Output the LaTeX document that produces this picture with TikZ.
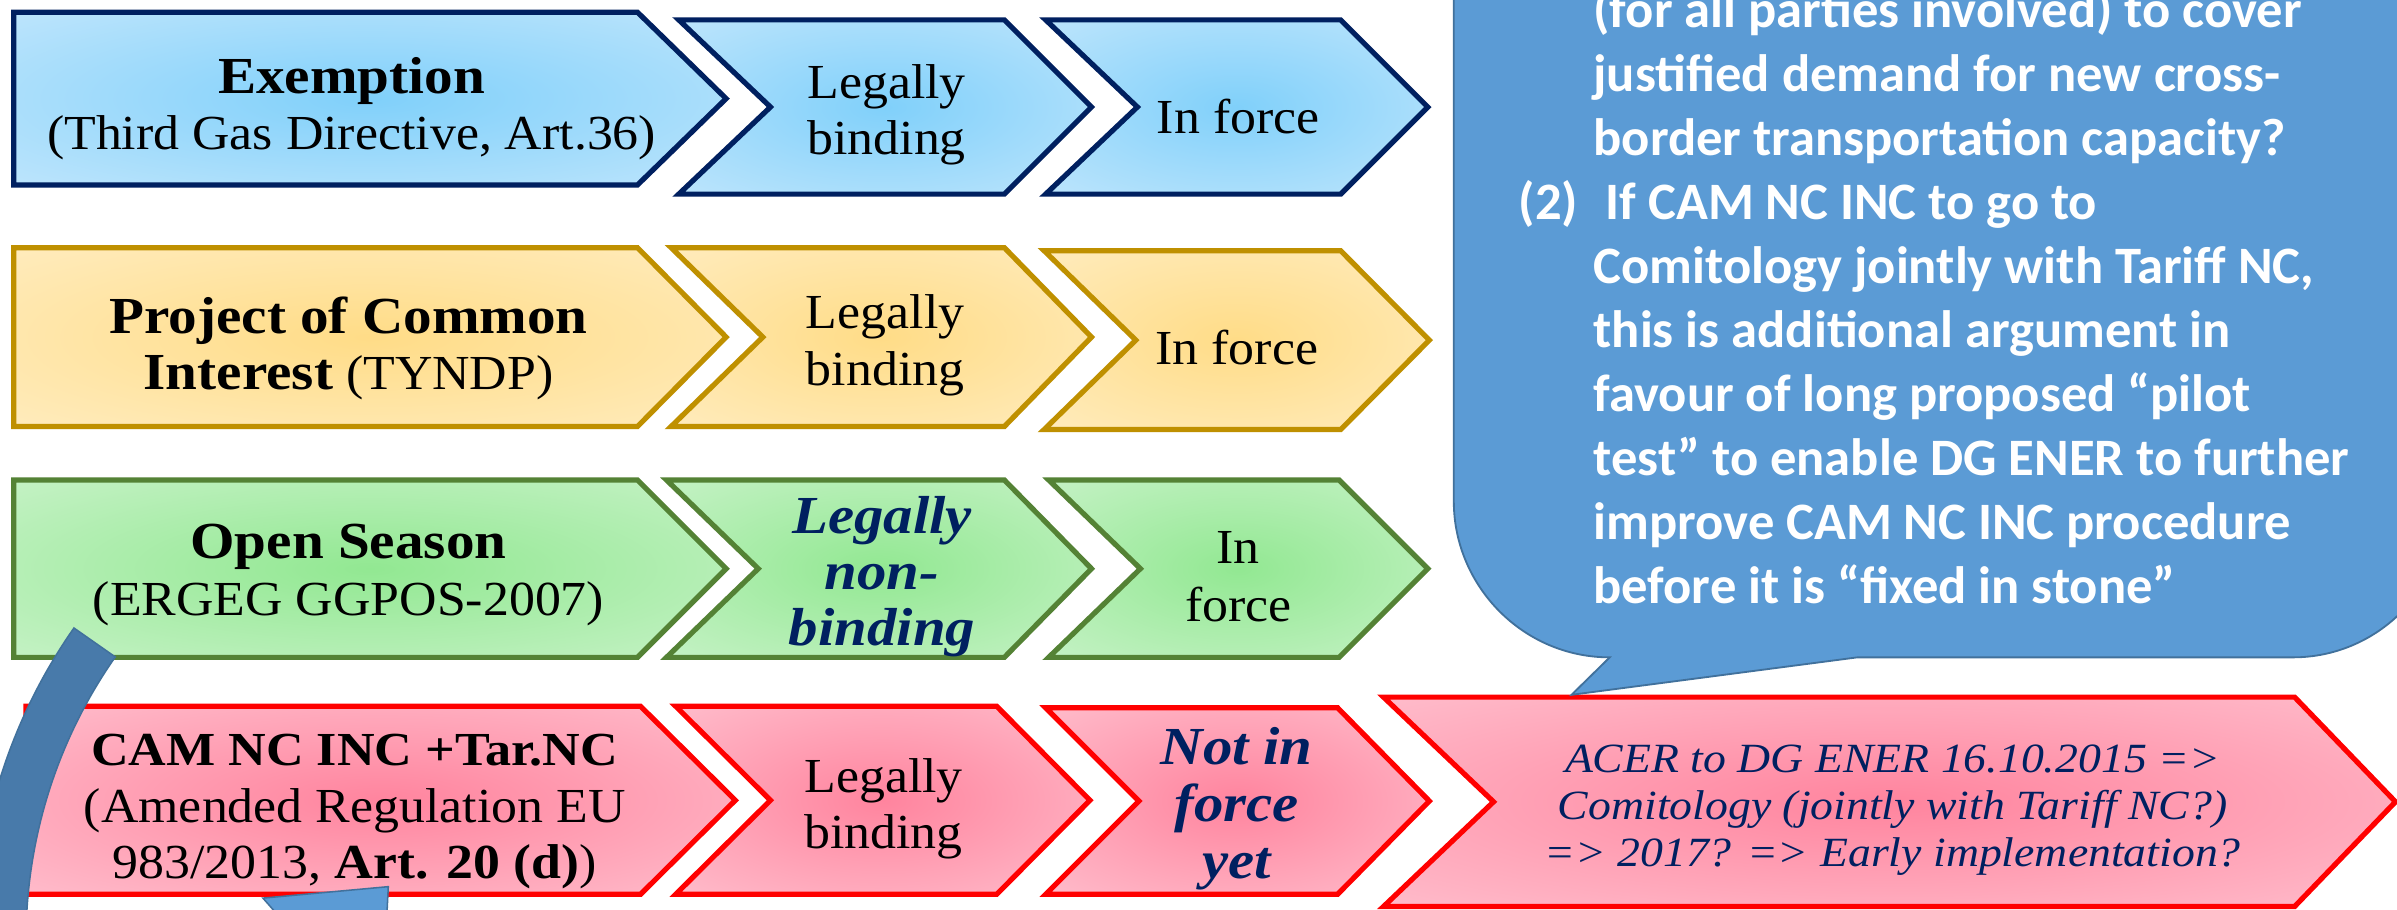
\documentclass[tikz,border=0pt]{standalone}
\usepackage{fontspec}
\usetikzlibrary{calc}
\setmainfont{Liberation Serif}[FakeStretch=1.06,BoldFeatures={FakeStretch=1.1},ItalicFeatures={FakeStretch=1.1},BoldItalicFeatures={FakeStretch=1.1}]
\newfontfamily\calibri{Carlito}
\definecolor{navy}{RGB}{0,32,96}
\definecolor{blueIn}{RGB}{128,208,250}
\definecolor{blueOut}{RGB}{222,240,253}
\definecolor{goldLine}{RGB}{191,144,0}
\definecolor{goldIn}{RGB}{255,220,135}
\definecolor{goldOut}{RGB}{255,244,218}
\definecolor{greenLine}{RGB}{84,130,53}
\definecolor{greenIn}{RGB}{146,232,146}
\definecolor{greenOut}{RGB}{224,247,224}
\definecolor{redIn}{RGB}{255,132,158}
\definecolor{redOut}{RGB}{255,218,227}
\definecolor{callFill}{RGB}{91,155,213}
\definecolor{callLine}{RGB}{65,113,156}
\definecolor{bandBlue}{RGB}{72,122,170}
\pgfdeclareradialshading{blueS}{\pgfpointorigin}{color(0bp)=(blueIn); color(55bp)=(blueOut); color(75bp)=(blueOut)}
\pgfdeclareradialshading{goldS}{\pgfpointorigin}{color(0bp)=(goldIn); color(55bp)=(goldOut); color(75bp)=(goldOut)}
\pgfdeclareradialshading{greenS}{\pgfpointorigin}{color(0bp)=(greenIn); color(55bp)=(greenOut); color(75bp)=(greenOut)}
\pgfdeclareradialshading{redS}{\pgfpointorigin}{color(0bp)=(redIn); color(55bp)=(redOut); color(75bp)=(redOut)}
% #1 style, #2 L, #3 notch depth, #4 base right, #5 tip, #6 top, #7 bottom
\newcommand\chev[7]{%
  \path[#1] (#2,#6) -- (#4,#6) -- (#5,{(#6+#7)/2}) -- (#4,#7) -- (#2,#7) -- ({#2+#3},{(#6+#7)/2}) -- cycle;}
\begin{document}
\begin{tikzpicture}[x=0.5pt,y=-0.5pt,
  chevbase/.style={line width=1.7pt, line join=miter, shade},
  cblue/.style={chevbase, draw=navy, shading=blueS},
  cgold/.style={chevbase, draw=goldLine, shading=goldS},
  cgreen/.style={chevbase, draw=greenLine, shading=greenS},
  cred/.style={chevbase, draw=red, shading=redS},
  lbl/.style={align=center, inner sep=0pt, font=\fontsize{16}{18.5}\selectfont},
  emph/.style={align=center, inner sep=0pt, text=navy, font=\fontsize{17.5}{18.3}\selectfont\bfseries\itshape},
  callt/.style={anchor=base west, inner sep=0pt, text=white, font=\calibri\fontsize{17.2}{21}\selectfont\bfseries}]
\useasboundingbox (0,0) rectangle (1568,595);
\fill[white] (0,0) rectangle (1568,595);
\begin{scope}
\clip (0,0) rectangle (1568,595);
% row 1
\chev{cblue}{9}{0}{417}{475}{8}{121}
\chev{cblue}{444}{60}{657}{714}{13}{127}
\chev{cblue}{684}{60}{877}{934}{13}{127}
% row 2
\chev{cgold}{9}{0}{417}{475}{162}{279}
\chev{cgold}{439}{60}{657}{714}{162}{279}
\chev{cgold}{683}{60}{877}{935}{164}{281}
% row 3
\chev{cgreen}{9}{0}{417}{475}{314}{430}
\chev{cgreen}{436}{60}{657}{714}{314}{430}
\chev{cgreen}{686}{60}{876}{934}{314}{430}
% row 4
\chev{cred}{17}{0}{419}{481}{462}{585}
\chev{cred}{442}{62}{652}{713}{462}{585}
\chev{cred}{684}{61}{875}{935}{463}{585}
\chev{cred}{905}{72}{1501}{1567}{456}{593}
% texts
\node[lbl] (t1a) at (230,71) {{\fontsize{17}{18.5}\selectfont\bfseries Exemption}\\(Third Gas Directive, Art.36)};
\node[lbl] (t1b) at (580,75) {Legally\\binding};
\node[lbl] (t1c) at (810,76) {In force};
\node[lbl] (t2a) at (228,228) {{\fontsize{17}{18.5}\selectfont\bfseries Project of Common}\\{\fontsize{17}{18.5}\selectfont\bfseries Interest} (TYNDP)};
\node[lbl] (t2b) at (579,226) {Legally\\binding};
\node[lbl] (t2c) at (809,227) {In force};
\node[lbl] (t3a) at (228,376) {{\fontsize{17}{18.5}\selectfont\bfseries Open Season}\\(ERGEG GGPOS-2007)};
\node[emph] (t3b) at (577,377) {Legally\\non-\\binding};
\node[lbl, font=\fontsize{16}{19}\selectfont] (t3c) at (810,377) {In\\force};
\node[lbl] (t4a) at (232,531) {{\fontsize{15.5}{18.5}\selectfont\bfseries CAM NC INC +Tar.NC}\\(Amended Regulation EU\\983/2013, \textbf{Art. 20 (d)})};
\node[lbl] (t4b) at (578,529) {Legally\\binding};
\node[emph, font=\fontsize{17.5}{18.5}\selectfont\bfseries\itshape] (t4c) at (809,529) {Not in\\force\\yet};
\node[lbl, text=navy, font=\fontsize{13.6}{15.5}\selectfont\itshape] (t4d) at (1238,530) {ACER to DG ENER 16.10.2015 =>\\Comitology (jointly with Tariff NC?)\\=> 2017? => Early implementation?};
% curved band
\path[fill=bandBlue, draw=callLine, line width=0.5pt] ($(340,615)+(215:356)$) coordinate (bandA) arc[start angle=215, end angle=150, radius=356] -- ($(340,615)+(150:323)$) arc[start angle=150, end angle=215, radius=323] -- cycle;
\coordinate (headA) at (172,587.5);
\coordinate (headB) at (254,580);
\path[fill=callFill, draw=callLine, line width=0.5pt] (headA) -- (headB) -- (253,600) -- (183,600) -- cycle;
% callout
\coordinate (tailTip) at (1028,454.5);
\path[fill=callFill, draw=callLine, line width=0.6pt] (951,-200) -- (951,328) .. controls (951,383) and (996,430) .. (1053,430) -- (tailTip) -- (1215,430) -- (1500,430) .. controls (1555,430) and (1600,385) .. (1600,330) -- (1600,-200) -- cycle;
\node[callt] (c1) at (1042,18) {(for all parties involved) to cover};
\node[callt] (c2) at (1042,59.9) {justified demand for new cross-};
\node[callt] (c3) at (1042,101.8) {border transportation capacity?};
\node[callt] (c4) at (1042,143.7) {\llap{(2)\hspace{5pt}}\hspace{4pt}If CAM NC INC to go to};
\node[callt] (c5) at (1042,185.6) {Comitology jointly with Tariff NC,};
\node[callt] (c6) at (1042,227.5) {this is additional argument in};
\node[callt] (c7) at (1042,269.4) {favour of long proposed “pilot};
\node[callt] (c8) at (1042,311.3) {test” to enable DG ENER to further};
\node[callt] (c9) at (1042,353.2) {improve CAM NC INC procedure};
\node[callt] (c10) at (1042,395.1) {before it is “fixed in stone”};
\end{scope}
\end{tikzpicture}
\end{document}
